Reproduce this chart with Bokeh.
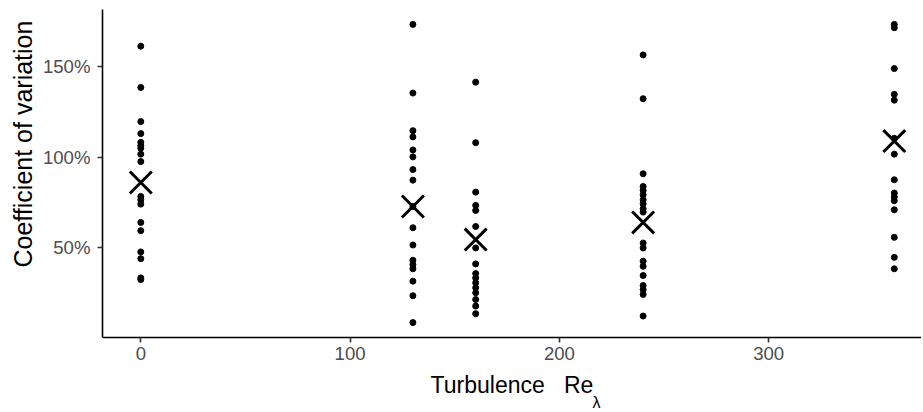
from bokeh.plotting import figure
from bokeh.models import FixedTicker, Label, Range1d, ColumnDataSource, Title
from bokeh.embed import file_html
from bokeh.resources import INLINE

# ---- data ----
re_levels = [0, 130, 160, 240, 360]

cv_re0 = [161.0, 138.3, 119.5, 112.9, 108.1, 106.3, 104.9, 101.6, 97.5,
          78.3, 76.5, 74.1, 64.0, 59.5, 47.8, 44.1, 33.5, 32.6]
cv_re130 = [173.0, 135.2, 114.5, 111.1, 103.9, 100.1, 93.1, 87.3, 72.8,
            61.1, 51.6, 43.2, 40.8, 38.5, 31.7, 23.7, 8.9]
cv_re160 = [141.2, 107.9, 80.7, 73.4, 70.6, 61.8, 50.0, 41.2, 35.9,
            33.5, 30.8, 28.1, 25.3, 21.6, 18.0, 13.8]
cv_re240 = [156.2, 132.1, 90.8, 83.8, 81.6, 79.2, 76.5, 74.3, 71.6, 69.7,
            52.7, 50.0, 42.7, 39.9, 34.8, 29.3, 27.1, 24.4, 12.5]
cv_re360 = [173.0, 171.2, 148.7, 134.5, 131.3, 110.3, 101.6, 87.5, 80.2,
            78.0, 76.0, 71.0, 55.8, 44.8, 38.5]

mean_cv = [86.0, 72.8, 54.6, 64.0, 108.8]

x_ticks = [0, 100, 200, 300]
y_ticks = [50, 100, 150]
y_tick_labels = ["50%", "100%", "150%"]

# axis limits of the panel
Y_LO, Y_HI = 0.7, 181.2
X_LO, X_HI = -18.3, 373.0

# ---- build sources ----
groups = [cv_re0, cv_re130, cv_re160, cv_re240, cv_re360]
pts_x, pts_y = [], []
for re, vals in zip(re_levels, groups):
    for v in vals:
        pts_x.append(re)
        pts_y.append(v)
pts = ColumnDataSource(dict(x=pts_x, y=pts_y))
means = ColumnDataSource(dict(x=re_levels, y=mean_cv))

FONT = "Liberation Sans"

# The frame reaches the bottom of the canvas so the subscript can be drawn;
# the x axis is pinned at the lower limit of the data panel.
PANEL_H = 328
FRAME_H = 402
px_per_unit = PANEL_H / (Y_HI - Y_LO)
y_bottom = Y_HI - FRAME_H / px_per_unit

p = figure(frame_width=819, frame_height=FRAME_H,
           x_range=Range1d(X_LO, X_HI), y_range=Range1d(y_bottom, Y_HI),
           output_backend="svg", toolbar_location=None,
           min_border_left=102, min_border_top=9, min_border_right=0,
           min_border_bottom=0)
p.outline_line_color = None
p.background_fill_color = "white"
p.border_fill_color = "white"
p.xgrid.visible = False
p.ygrid.visible = False

p.scatter("x", "y", source=pts, marker="circle", size=6,
          fill_color="black", line_color="black")
p.scatter("x", "y", source=means, marker="x", size=31,
          line_color="black", line_width=3)

for ax in (p.xaxis[0], p.yaxis[0]):
    ax.axis_line_color = "black"
    ax.axis_line_width = 1.6
    ax.major_tick_line_color = "#333333"
    ax.major_tick_line_width = 1.6
    ax.major_tick_out = 5
    ax.major_tick_in = 0
    ax.minor_tick_line_color = None
    ax.major_label_text_font = FONT
    ax.major_label_text_font_size = "18.6px"
    ax.major_label_text_color = "#4D4D4D"
    ax.axis_label_text_font = FONT
    ax.axis_label_text_font_size = "23px"
    ax.axis_label_text_font_style = "normal"
    ax.axis_label_text_color = "black"

p.xaxis[0].fixed_location = Y_LO
p.yaxis[0].bounds = (Y_LO, Y_HI)
p.xaxis[0].ticker = FixedTicker(ticks=x_ticks)
p.yaxis[0].ticker = FixedTicker(ticks=y_ticks)
p.yaxis[0].major_label_overrides = {t: l for t, l in zip(y_ticks, y_tick_labels)}
p.xaxis[0].major_label_standoff = 4
p.yaxis[0].major_label_standoff = 7
p.xaxis[0].axis_label = "Turbulence\u00a0\u00a0\u00a0Re"
p.xaxis[0].axis_label_standoff = 9

# y title placed beside the data panel (not centred on the taller frame)
ytitle = Title(text="Coefficient of variation", align="left", offset=144,
               standoff=6, text_font=FONT, text_font_size="25px",
               text_font_style="normal", text_color="black")
p.add_layout(ytitle, "left")

sub = Label(x=490, y=9, x_units="screen", y_units="screen", text="\u03bb",
            text_font=FONT, text_font_size="16px", text_color="black",
            text_baseline="alphabetic", text_align="left")
p.add_layout(sub)

open("out.html", "w").write(file_html(p, INLINE))
